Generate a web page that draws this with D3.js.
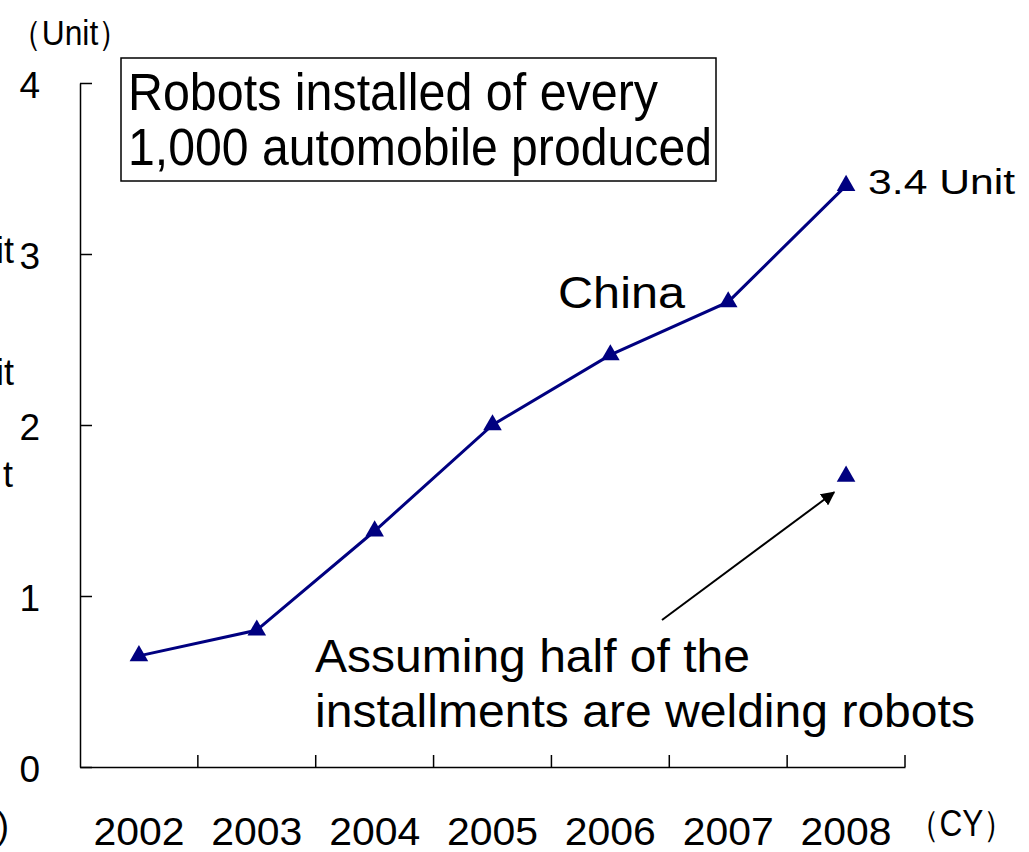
<!DOCTYPE html>
<html>
<head>
<meta charset="utf-8">
<script src="https://cdn.jsdelivr.net/npm/d3@7"></script>
<style>
  body { margin: 0; background: #fff; }
  svg { display: block; font-family: "Liberation Sans", Arial, sans-serif; }
</style>
</head>
<body>
<script>
// Data
const years = ['2002', '2003', '2004', '2005', '2006', '2007', '2008'];
const chinaValues = [0.65, 0.80, 1.38, 2.0, 2.41, 2.72, 3.40];
const weldingYears = ['2008'];
const weldingValues = [1.7];
const yTicks = [0, 1, 2, 3, 4];

const width = 1029, height = 852;
const navy = '#000080';

let svg = d3.select('body').append('svg')
  .attr('width', width)
  .attr('height', height);

// Scales
let x = d3.scaleBand().domain(years).range([80, 905]).padding(0);
let y = d3.scaleLinear().domain([0, 4]).range([767, 83]);

// Y axis (inward ticks)
let yAxis = svg.append('g')
  .attr('transform', 'translate(80,0)')
  .call(d3.axisLeft(y).tickValues(yTicks).tickFormat(d3.format('d'))
    .tickSizeInner(-12).tickSizeOuter(0).tickPadding(40));
yAxis.select('.domain').attr('stroke', '#000').attr('stroke-width', 1.5);
yAxis.selectAll('line').attr('stroke-width', 1.5);
yAxis.selectAll('text').attr('font-size', 37).attr('fill', '#000')
  .attr('font-family', '"Liberation Sans", Arial, sans-serif').attr('dy', '0.38em');

// X axis: labels centered, ticks at category boundaries
let xAxis = svg.append('g')
  .attr('transform', 'translate(0,767)')
  .call(d3.axisBottom(x).tickSize(0).tickPadding(50));
xAxis.select('.domain').attr('stroke', '#000').attr('stroke-width', 1.5);
xAxis.selectAll('text').attr('font-size', 39).attr('fill', '#000')
  .attr('font-family', '"Liberation Sans", Arial, sans-serif')
  .attr('textLength', 91).attr('lengthAdjust', 'spacingAndGlyphs');

let bounds = years.slice(1).map(d => x(d)).concat([x.range()[1]]);
svg.append('g').selectAll('line')
  .data(bounds)
  .enter()
  .append('line')
  .attr('x1', d => d).attr('x2', d => d)
  .attr('y1', 767).attr('y2', 755)
  .attr('stroke', '#000').attr('stroke-width', 1.5);

// China line
let cx = d => x(d) + x.bandwidth() / 2;
let china = years.map((d, i) => ({ year: d, value: chinaValues[i] }));
svg.append('path')
  .datum(china)
  .attr('fill', 'none')
  .attr('stroke', navy)
  .attr('stroke-width', 3)
  .attr('d', d3.line().x(d => cx(d.year)).y(d => y(d.value)));

let tri = d3.symbol().type(d3.symbolTriangle).size(150);
svg.append('g').selectAll('path')
  .data(china)
  .enter()
  .append('path')
  .attr('d', tri)
  .attr('fill', navy)
  .attr('transform', d => `translate(${cx(d.year)},${y(d.value)})`);

let welding = weldingYears.map((d, i) => ({ year: d, value: weldingValues[i] }));
svg.append('g').selectAll('path')
  .data(welding)
  .enter()
  .append('path')
  .attr('d', tri)
  .attr('fill', navy)
  .attr('transform', d => `translate(${cx(d.year)},${y(d.value)})`);

// Arrow
svg.append('defs').append('marker')
  .attr('id', 'arrow')
  .attr('viewBox', '0 0 10 10')
  .attr('refX', 9).attr('refY', 5)
  .attr('markerWidth', 7).attr('markerHeight', 7)
  .attr('markerUnits', 'strokeWidth')
  .attr('orient', 'auto')
  .append('path')
  .attr('d', 'M0,0 L10,5 L0,10 z')
  .attr('fill', '#000');

let w = welding[0];
svg.append('line')
  .attr('x1', 662).attr('y1', 620)
  .attr('x2', cx(w.year) - 12).attr('y2', y(w.value) + 16)
  .attr('stroke', '#000').attr('stroke-width', 2)
  .attr('marker-end', 'url(#arrow)');

// Title box
svg.append('rect')
  .attr('x', 121).attr('y', 58)
  .attr('width', 595).attr('height', 123)
  .attr('fill', 'none').attr('stroke', '#000').attr('stroke-width', 1.5);

function label(txt, px, py, size, len) {
  let t = svg.append('text')
    .attr('x', px).attr('y', py)
    .attr('font-size', size)
    .attr('fill', '#000')
    .text(txt);
  if (len) t.attr('textLength', len).attr('lengthAdjust', 'spacingAndGlyphs');
  return t;
}

label('Robots installed of every', 128, 110, 51, 530);
label('1,000 automobile produced', 128, 165, 51, 584);
label('China', 558, 308, 44, 127);
label('3.4 Unit', cx(years[6]) + 22, y(chinaValues[6]) + 8, 35, 147);
label('Assuming half of the', 315, 672, 46, 435);
label('installments are welding robots', 315, 727, 46, 660);
label('（Unit）', 10, 45, 35, 120);
label('（CY）', 908, 836, 36, 107);

// text fragments at the left edge
label('it', 14, 263, 36).attr('text-anchor', 'end');
label('it', 14, 385, 36).attr('text-anchor', 'end');
label('t', 13, 487, 36).attr('text-anchor', 'end');
label(')', -3, 838, 36);
</script>
</body>
</html>
